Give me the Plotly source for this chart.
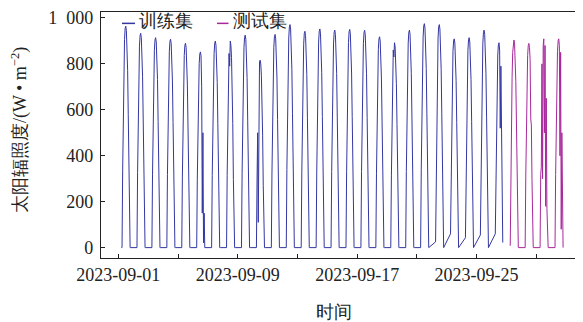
import plotly.graph_objects as go
import pandas as pd

# ---- data ----
day_dates = pd.date_range("2023-09-01", periods=30, freq="D")
train_days = 26
train_peaks = [964, 933, 914, 907, 890, 852, 899, 899, 925, 816, 928, 971, 942,
               952, 947, 950, 946, 918, 892, 947, 975, 971, 909, 914, 947, 892]
test_peaks = [904, 889, 909, 909]

# fraction of the daily peak at each clock hour (clear-day shape)
hour_profile = [0, 0, 0, 0, 0, 0, 0.0, 0.35, 0.62, 0.82, 0.94, 0.99,
                1.0, 0.98, 0.92, 0.80, 0.60, 0.33, 0.05, 0, 0, 0, 0, 0]

# irregular (cloudy) readings: (day number, hour) -> W/m2
irregular = {
    (6, 14): 700, (6, 15): 150, (6, 16): 500, (6, 17): 20, (6, 18): 150,
    (8, 11): 790,
    (10, 8): 500, (10, 9): 110,
    (19, 9): 560, (19, 10): 860, (19, 11): 830,
    (26, 13): 860, (26, 14): 520, (26, 15): 790, (26, 16): 560, (26, 17): 300, (26, 18): 22,
    (27, 6): 8,
    (28, 15): 560,
    (29, 8): 350, (29, 9): 800, (29, 10): 300, (29, 11): 880, (29, 13): 500,
    (29, 14): 880, (29, 15): 180, (29, 16): 650, (29, 17): 170, (29, 18): 40,
    (30, 13): 880, (30, 14): 400, (30, 15): 850, (30, 16): 80, (30, 17): 500, (30, 18): 50,
}
# nights without records: first morning reading (day number -> W/m2 at 06:00)
gap_mornings = {22: 25, 23: 60, 24: 43, 25: 55, 26: 60}

train_start_hour = 5
train_end_hour = 18
test_start_hour = 6
test_end_hour = 19

y_ticks = [0, 200, 400, 600, 800, 1000]
y_ticktext = ["0", "200", "400", "600", "800", "1\u2002000"]


def build(day_numbers, peaks, first_hour, last_hour):
    xs, ys = [], []
    for k, (dn, pk) in enumerate(zip(day_numbers, peaks)):
        h0 = first_hour if k == 0 else 0
        h1 = last_hour if k == len(day_numbers) - 1 else 23
        for h in range(h0, h1 + 1):
            if dn in gap_mornings and h < 6:
                continue
            if (dn + 1) in gap_mornings and h > 19:
                continue
            if dn in gap_mornings and h == 6:
                v = gap_mornings[dn]
            else:
                v = irregular.get((dn, h), pk * hour_profile[h])
            xs.append(day_dates[dn - 1] + pd.Timedelta(hours=h))
            ys.append(v)
    return xs, ys


train_x, train_y = build(list(range(1, train_days + 1)), train_peaks,
                         train_start_hour, train_end_hour)
test_x, test_y = build(list(range(train_days + 1, 31)), test_peaks,
                       test_start_hour, test_end_hour)

train_color = "#3437a2"
test_color = "#a8289c"
ink = "#222222"
serif = "Times New Roman, Liberation Serif, DejaVu Serif, serif"

fig = go.Figure()
fig.add_trace(go.Scatter(x=train_x, y=train_y, mode="lines", name="训练集",
                         line=dict(color=train_color, width=1), showlegend=False))
fig.add_trace(go.Scatter(x=test_x, y=test_y, mode="lines", name="测试集",
                         line=dict(color=test_color, width=1), showlegend=False))

day_ms = 86400000
# page is offset by the 8px body margin, so the figure is 8px smaller
fig.update_layout(
    width=575, height=314,
    margin=dict(l=93, r=0, t=1, b=64),
    paper_bgcolor="white", plot_bgcolor="white",
    font=dict(family=serif, size=18, color=ink),
    xaxis=dict(
        type="date",
        range=["2023-08-30 20:11", "2023-10-02 03:00"],
        tickmode="linear", tick0="2023-09-01", dtick=8 * day_ms,
        tickformat="%Y-%m-%d",
        ticks="inside", ticklen=4, tickcolor=ink, tickwidth=1,
        minor=dict(tick0="2023-09-01", dtick=4 * day_ms, ticks="inside",
                   ticklen=4, tickcolor=ink, showgrid=False),
        showline=True, linecolor=ink, linewidth=1.3, mirror=True,
        showgrid=False, zeroline=False,
        ticklabelstandoff=0,
        tickfont=dict(family=serif, size=18, color=ink),
    ),
    yaxis=dict(
        range=[-45.2, 1025.8],
        tickmode="array", tickvals=y_ticks, ticktext=y_ticktext,
        ticks="inside", ticklen=4, tickcolor=ink, tickwidth=1,
        showline=True, linecolor=ink, linewidth=1.3, mirror=False,
        showgrid=False, zeroline=False,
        ticklabelstandoff=3, ticklabeloverflow="allow",
        tickfont=dict(family=serif, size=18, color=ink),
    ),
)

# legend drawn as line samples + text (short samples like the reference)
legend_items = [("训练集", train_color, 0.0436, 0.0705, 0.0747),
                ("测试集", test_color, 0.2407, 0.2645, 0.2697)]
for label, col, x0, x1, xt in legend_items:
    fig.add_shape(type="line", xref="paper", yref="paper", x0=x0, x1=x1,
                  y0=0.9538, y1=0.9538, line=dict(color=col, width=1.5))
    fig.add_annotation(text=label, xref="paper", yref="paper", x=xt, y=0.9618,
                       xanchor="left", yanchor="middle", showarrow=False,
                       font=dict(family=serif, size=18, color=ink))

fig.add_annotation(text="太阳辐照度/(W • m<sup>−2</sup>)", xref="paper", yref="paper",
                   x=-0.168, y=0.52, textangle=-90, showarrow=False,
                   xanchor="center", yanchor="middle",
                   font=dict(family=serif, size=18, color=ink))
fig.add_annotation(text="时间", xref="paper", yref="paper", x=0.483, y=-0.221,
                   showarrow=False, xanchor="center", yanchor="middle",
                   font=dict(family=serif, size=18, color=ink))

fig.write_html("out.html")
